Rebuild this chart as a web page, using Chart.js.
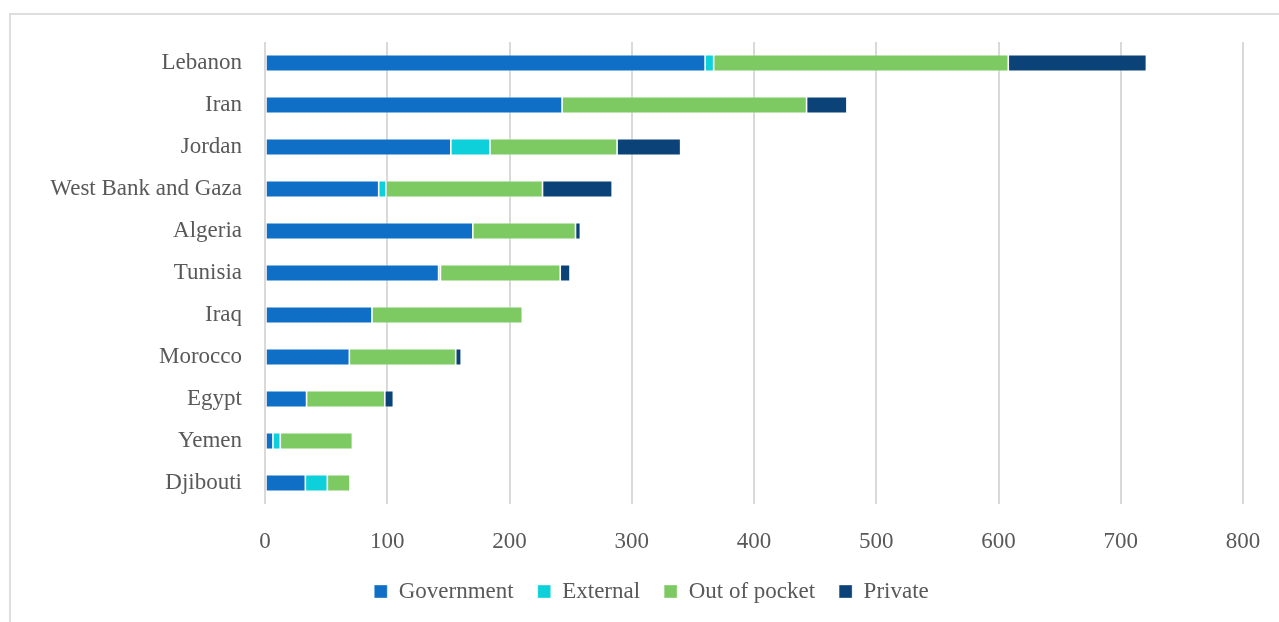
<!DOCTYPE html>
<html>
<head>
<meta charset="utf-8">
<title>Health spending by source</title>
<script src="https://cdn.jsdelivr.net/npm/chart.js@4.4.0/dist/chart.umd.min.js"></script>
<style>
  html, body { margin: 0; padding: 0; background: #fff; overflow: hidden; }
  .frame {
    position: absolute; left: 9px; top: 13px; width: 1400px; height: 800px;
    border-left: 2px solid #dedede; border-top: 2px solid #dedede;
  }
  .wrap { position: absolute; left: 0; top: 0; width: 1279px; height: 622px; }
</style>
</head>
<body>
<div class="frame"></div>
<div class="wrap"><canvas id="barChart"></canvas></div>
<script>
// countries, top to bottom
const countries = ['Lebanon', 'Iran', 'Jordan', 'West Bank and Gaza', 'Algeria', 'Tunisia',
  'Iraq', 'Morocco', 'Egypt', 'Yemen', 'Djibouti'];

// values
const government = [360, 243, 152, 93, 170, 142, 87.5, 69, 34, 6.5, 33];
const external = [7, 0, 32, 6, 0, 1.5, 0, 0, 0, 6, 18];
const outOfPocket = [241, 200, 104, 128, 84, 98, 123, 87, 64, 59, 18.5];
const privateSpend = [113, 33, 52, 57, 4, 8, 0, 4.5, 7, 0.6, 0.5];

const xTicks = [0, 100, 200, 300, 400, 500, 600, 700, 800];

const textColor = '#595959';
const fontFamily = '"Liberation Serif", "DejaVu Serif", serif';

function serie(label, data, color) {
  return {
    label: label,
    data: data,
    backgroundColor: color,
    borderColor: 'rgba(255,255,255,0.45)',
    borderWidth: 0.8,
    borderSkipped: false,
    categoryPercentage: 0.8,
    barPercentage: 0.5
  };
}

// pousse la legende un peu a droite, comme dans l'original
const legendShift = {
  id: 'legendShift',
  afterLayout(chart) {
    if (chart.legend) {
      chart.legend.left += 30;
      chart.legend.right += 30;
    }
  }
};

document.addEventListener('DOMContentLoaded', () => {
  const ctx = document.getElementById('barChart').getContext('2d');
  new Chart(ctx, {
    type: 'bar',
    data: {
      labels: countries,
      datasets: [
        serie('Government', government, '#0F6FC6'),
        serie('External', external, '#0DD0DA'),
        serie('Out of pocket', outOfPocket, '#7DCA62'),
        serie('Private', privateSpend, '#0B4378')
      ]
    },
    plugins: [legendShift],
    options: {
      indexAxis: 'y',
      responsive: true,
      maintainAspectRatio: false,
      animation: false,
      layout: { padding: { top: 42, right: 36, bottom: 9, left: 0 } },
      scales: {
        x: {
          stacked: true,
          min: 0,
          max: 800,
          afterBuildTicks: axis => { axis.ticks = xTicks.map(v => ({ value: v })); },
          afterFit: axis => {
            axis.height = 52;
            axis.paddingLeft = 0;
            axis.paddingRight = 0;
          },
          grid: { color: '#d9d9d9', lineWidth: 2, drawTicks: false },
          border: { display: false },
          ticks: { color: textColor, padding: 24, font: { family: fontFamily, size: 23 } }
        },
        y: {
          stacked: true,
          afterFit: axis => { axis.width = 265; },
          grid: { display: false, drawTicks: false },
          border: { display: false },
          ticks: { color: textColor, padding: 23, font: { family: fontFamily, size: 23 } }
        }
      },
      plugins: {
        legend: {
          position: 'bottom',
          labels: {
            color: textColor,
            boxWidth: 13,
            boxHeight: 13,
            padding: 24,
            font: { family: fontFamily, size: 23 }
          }
        },
        tooltip: { enabled: false }
      }
    }
  });
});
</script>
</body>
</html>
